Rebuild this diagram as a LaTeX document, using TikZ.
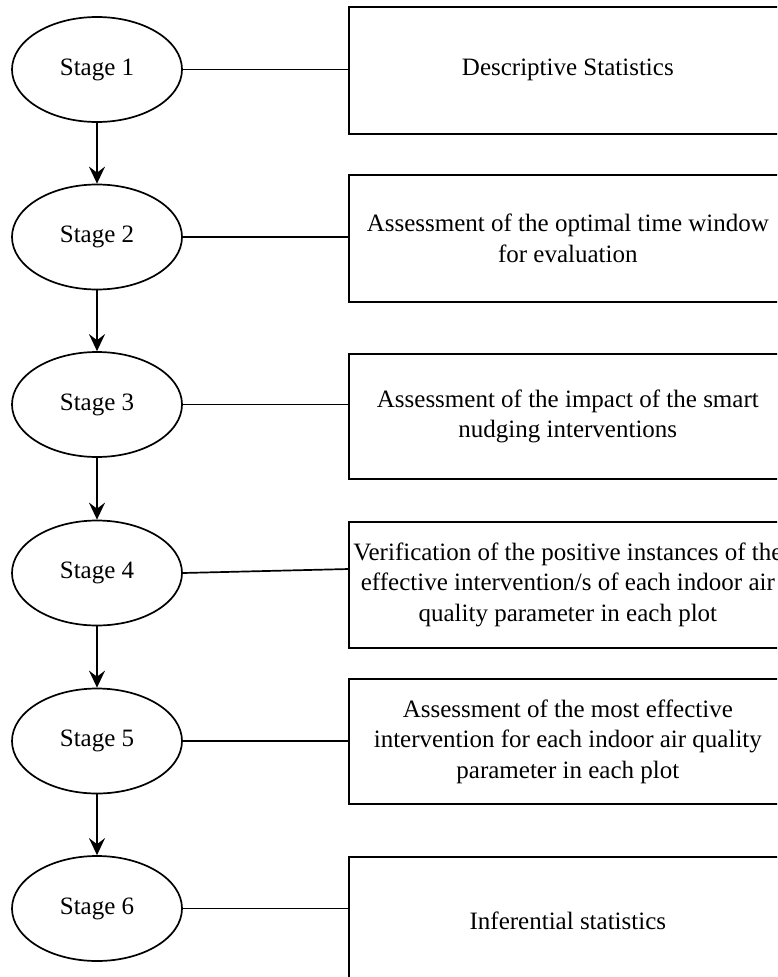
\documentclass[tikz,border=0pt]{standalone}
\usepackage{fontspec}
\setmainfont{Liberation Serif}
\usetikzlibrary{shapes.geometric,arrows.meta}
\tikzset{
  stagenode/.style={ellipse,draw,line width=1.7pt,minimum width=170pt,minimum height=105pt,inner sep=0pt,font=\fontsize{25}{30.5}\selectfont},
  descbox/.style={rectangle,draw,line width=1.7pt,minimum width=438pt,anchor=north west,inner sep=0pt,align=center,font=\fontsize{25}{30.5}\selectfont},
  link/.style={line width=1.7pt},
  flow/.style={line width=1.7pt,-{Stealth[length=17pt,width=16pt,inset=6pt]}}
}
\begin{document}
\begin{tikzpicture}[x=1pt,y=-1pt]
\useasboundingbox (0,0) rectangle (777,977);
\clip (0,0) rectangle (777,977);
\fill[white] (0,0) rectangle (777,977);
% stages
\node[stagenode] (s1) at (97,69.5) {Stage 1};
\node[stagenode] (s2) at (97,237) {Stage 2};
\node[stagenode] (s3) at (97,404.5) {Stage 3};
\node[stagenode] (s4) at (97,573) {Stage 4};
\node[stagenode] (s5) at (97,741) {Stage 5};
\node[stagenode] (s6) at (97,908.5) {Stage 6};
% boxes
\node[descbox,minimum height=127pt] (r1) at (348,6) {Descriptive Statistics};
\node[descbox,minimum height=127pt] (r2) at (348,174) {Assessment of the optimal time window\\for evaluation};
\node[descbox,minimum height=125pt] (r3) at (348,353) {Assessment of the impact of the smart\\nudging interventions};
\node[descbox,minimum height=126pt] (r4) at (348,521) {Verification of the positive instances of the\\effective intervention/s of each indoor air\\quality parameter in each plot};
\node[descbox,minimum height=125pt] (r5) at (348,678) {Assessment of the most effective\\intervention for each indoor air quality\\parameter in each plot};
\node[descbox,minimum height=127pt] (r6) at (348,856) {Inferential statistics};
% flow arrows
\draw[flow] (s1.south) -- (s2.north);
\draw[flow] (s2.south) -- (s3.north);
\draw[flow] (s3.south) -- (s4.north);
\draw[flow] (s4.south) -- (s5.north);
\draw[flow] (s5.south) -- (s6.north);
% links
\coordinate (c4) at (349,569);
\draw[link] (s1.east) -- (s1.east -| r1.west);
\draw[link] (s2.east) -- (s2.east -| r2.west);
\draw[link] (s3.east) -- (s3.east -| r3.west);
\draw[link] (s4.east) -- (c4);
\draw[link] (s5.east) -- (s5.east -| r5.west);
\draw[link] (s6.east) -- (s6.east -| r6.west);
\end{tikzpicture}
\end{document}
